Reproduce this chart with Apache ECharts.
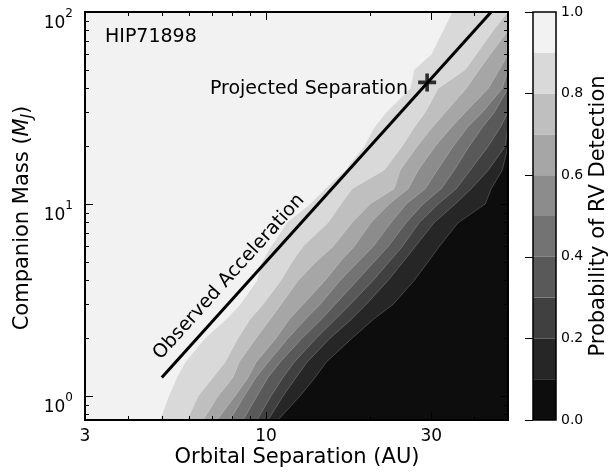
<!DOCTYPE html>
<html>
<head>
<meta charset="utf-8">
<script src="https://cdn.jsdelivr.net/npm/echarts@6/dist/echarts.min.js"></script>
<style>
  html, body { margin: 0; padding: 0; background: #fff; }
  #main { width: 611px; height: 472px; }
</style>
</head>
<body>
<div id="main"></div>
<script>
// contour levels of the RV detection probability
const levels = [0, 0.1, 0.2, 0.3, 0.4, 0.5, 0.6, 0.7, 0.8, 0.9, 1.0];

const massRows = [0.75, 1, 1.25, 1.5, 2, 2.5, 3, 4, 5, 6, 8, 10, 12, 15, 20, 25, 30, 40, 50, 60, 80, 100];

// orbital separation (AU) of each contour edge on those rows, bottom to top
// (an edge that runs out of the right side of the plot stops at 50)
const edge10 = [10.83, 12.54, 13.87, 14.92, 17.73, 20.39, 23.29, 26.79, 29.41, 31.64, 35.91, 42.98, 44.73, 48.13, 50];
const edge20 = [10.14, 11.20, 12.22, 13.14, 15.31, 17.62, 19.47, 22.53, 24.90, 26.98, 30.60, 35.20, 39.15, 43.86, 49.10, 50];
const edge30 = [9.42, 10.34, 11.20, 12.06, 13.96, 15.83, 17.50, 20.39, 22.68, 24.74, 27.69, 31.44, 35.44, 38.89, 43.86, 47.49, 50];
const edge40 = [8.59, 9.42, 10.14, 10.98, 12.71, 14.43, 15.83, 18.34, 20.53, 22.53, 25.41, 28.44, 32.06, 34.96, 38.64, 42.13, 45.63, 50];
const edge50 = [7.87, 8.65, 9.36, 10.14, 11.58, 12.97, 14.33, 16.37, 18.46, 20.39, 22.98, 25.41, 28.83, 31.23, 34.73, 38.13, 42.13, 48.13, 50];
const edge60 = [7.22, 8.14, 8.88, 9.36, 10.69, 11.66, 12.79, 14.82, 16.37, 17.97, 20.12, 22.68, 25.75, 27.52, 30.81, 34.27, 37.62, 43.86, 47.18, 50];
const edge70 = [6.58, 7.27, 8.03, 8.36, 9.36, 10.27, 11.05, 12.39, 13.96, 15.62, 17.73, 19.99, 23.45, 24.41, 27.34, 30.20, 32.93, 37.87, 41.30, 44.43, 50];
const edge80 = [5.92, 6.37, 7.03, 7.62, 8.30, 8.99, 9.80, 11.05, 11.90, 12.79, 15.12, 16.48, 17.73, 21.94, 24.74, 26.79, 28.83, 31.44, 37.62, 40.48, 45.33, 50];
const edge90 = [4.94, 5.24, 5.53, 5.84, 6.67, 7.67, 8.42, 9.42, 9.74, 10.34, 11.51, 13.41, 14.82, 16.93, 19.20, 20.53, 22.24, 26.09, 26.79, 30.0, 32.49, 34.50];

// observed acceleration line and projected separation (AU, M_J)
const accelLine = [[5.0, 1.25], [44.7, 100]];
const projSep = [29.2, 43];

// axis ranges and ticks
const xRange = [3, 50];
const yRange = [0.75, 100];
const xMajor = [3, 10, 30];
const xMinor = [4, 5, 6, 7, 8, 9, 20, 40];
const yMajor = [1, 10, 100];
const yMinor = [0.8, 0.9, 2, 3, 4, 5, 6, 7, 8, 9, 20, 30, 40, 50, 60, 70, 80, 90];

const lg = Math.log10;
const font = 'DejaVu Sans';
const edges = [edge10, edge20, edge30, edge40, edge50, edge60, edge70, edge80, edge90];

function bandColor(k) {
    const v = Math.round(255 * (levels[k] + levels[k + 1]) / 2);
    return 'rgb(' + v + ',' + v + ',' + v + ')';
}

let chart = echarts.init(document.getElementById('main'));

function mainAxis(range, pos, ticks, len, label) {
    return {
        type: 'value',
        gridIndex: 0,
        position: pos,
        min: lg(range[0]),
        max: lg(range[1]),
        z: 10,
        axisLine: { show: true, onZero: false, lineStyle: { color: '#000', width: 2 } },
        axisTick: { show: true, inside: true, length: len, customValues: ticks.map(lg),
                    lineStyle: { color: '#000', width: 1 } },
        axisLabel: label || { show: false },
        splitLine: { show: false }
    };
}

const xLabel = {
    show: true, customValues: xMajor.map(lg), showMinLabel: true, showMaxLabel: true,
    formatter: v => String(Math.round(Math.pow(10, v))),
    fontSize: 17, color: '#000', fontFamily: font, margin: 8
};
const yLabel = {
    show: true, customValues: yMajor.map(lg), showMinLabel: true, showMaxLabel: true,
    formatter: v => '{b|10}{s|' + Math.round(v) + '}',
    margin: 12,
    padding: [16, 0, 0, 0],
    rich: {
        b: { fontSize: 17, fontFamily: font, color: '#000', lineHeight: 24, verticalAlign: 'bottom' },
        s: { fontSize: 12, fontFamily: font, color: '#000', lineHeight: 12, verticalAlign: 'top' }
    }
};

option = {
    animation: false,
    backgroundColor: '#fff',
    textStyle: { fontFamily: font },
    grid: [
        { left: 85, right: 103, top: 12, bottom: 52 },
        { left: 533, top: 12, width: 23, height: 408 }
    ],
    xAxis: [
        mainAxis(xRange, 'bottom', xMajor, 8, xLabel),
        mainAxis(xRange, 'bottom', xMinor, 4),
        mainAxis(xRange, 'top', xMajor, 8),
        mainAxis(xRange, 'top', xMinor, 4),
        { type: 'value', gridIndex: 1, min: 0, max: 1, show: false }
    ],
    yAxis: [
        mainAxis(yRange, 'left', yMajor, 8, yLabel),
        mainAxis(yRange, 'left', yMinor, 4),
        mainAxis(yRange, 'right', yMajor, 8),
        mainAxis(yRange, 'right', yMinor, 4),
        {
            type: 'value', gridIndex: 1, min: 0, max: 1, interval: 0.2, position: 'right', z: 10,
            axisLine: { show: false },
            axisTick: { show: true, inside: true, length: 8, lineStyle: { color: '#000', width: 1 } },
            axisLabel: { fontSize: 14, color: '#000', fontFamily: font, margin: 5,
                         formatter: v => v.toFixed(1) },
            splitLine: { show: false },
            name: 'Probability of RV Detection',
            nameLocation: 'middle',
            nameRotate: 90,
            nameGap: 32,
            nameTextStyle: { fontSize: 21, fontFamily: font, color: '#000' }
        }
    ],
    graphic: [
        // axis titles
        { type: 'text', x: 297, y: 458, z: 20,
          style: { text: 'Orbital Separation (AU)', fontSize: 21, fontFamily: font, fill: '#000',
                   align: 'center', verticalAlign: 'middle' } },
        { type: 'text', x: 23, y: 218, rotation: Math.PI / 2, z: 20,
          style: {
              text: '{n|Companion Mass (}{m|M}{j|J}{n|)}',
              align: 'center', verticalAlign: 'middle',
              rich: {
                  n: { fontSize: 21, fontFamily: font, fill: '#000', lineHeight: 26 },
                  m: { fontSize: 21, fontFamily: font, fontStyle: 'italic', fill: '#000', lineHeight: 26 },
                  j: { fontSize: 15, fontFamily: font, fontStyle: 'italic', fill: '#000', lineHeight: 16,
                       verticalAlign: 'bottom' }
              }
          } },
        // annotations
        { type: 'text', x: 105, y: 37, z: 20,
          style: { text: 'HIP71898', fontSize: 19, fontFamily: font, fill: '#000',
                   align: 'left', verticalAlign: 'middle' } },
        { type: 'text', x: 408, y: 89, z: 20,
          style: { text: 'Projected Separation', fontSize: 19, fontFamily: font, fill: '#000',
                   align: 'right', verticalAlign: 'middle' } },
        { type: 'text', x: 229, y: 277, rotation: 0.836, z: 20,
          style: { text: 'Observed Acceleration', fontSize: 19, fontFamily: font, fill: '#000',
                   align: 'center', verticalAlign: 'middle' } }
    ],
    series: [
        {
            // filled contours: paint each level's region above/left of its edge
            type: 'custom',
            xAxisIndex: 0, yAxisIndex: 0,
            silent: true,
            z: 2,
            data: levels.slice(0, -1).map((lv, k) => [lg(xRange[0]), lg(yRange[0]), k]),
            renderItem: function (params, api) {
                const k = api.value(2);
                let pts;
                if (k === 0) {
                    pts = [[xRange[0], yRange[0]], [xRange[1], yRange[0]], [xRange[1], yRange[1]], [xRange[0], yRange[1]]];
                } else {
                    const e = edges[k - 1];
                    pts = e.map((a, i) => [a, massRows[i]]);
                    if (e.length < massRows.length) pts.push([xRange[1], yRange[1]]);
                    pts.push([xRange[0], yRange[1]], [xRange[0], yRange[0]]);
                }
                return {
                    type: 'polygon',
                    z2: k,
                    shape: { points: pts.map(p => api.coord([lg(p[0]), lg(p[1])])) },
                    style: { fill: bandColor(k),
                             stroke: k ? 'rgba(255,255,255,0.28)' : null,
                             lineWidth: 0.7 }
                };
            }
        },
        {
            type: 'line',
            xAxisIndex: 0, yAxisIndex: 0,
            data: accelLine.map(p => [lg(p[0]), lg(p[1])]),
            symbol: 'none',
            silent: true,
            z: 5,
            lineStyle: { color: '#000', width: 3 }
        },
        {
            type: 'scatter',
            xAxisIndex: 0, yAxisIndex: 0,
            data: [[lg(projSep[0]), lg(projSep[1])]],
            symbol: 'path://M4,0H6V4H10V6H6V10H4V6H0V4H4Z',
            symbolSize: 18,
            itemStyle: { color: '#000' },
            silent: true,
            z: 6
        },
        {
            // colour bar bands
            type: 'custom',
            xAxisIndex: 4, yAxisIndex: 4,
            silent: true,
            data: levels.slice(0, -1).map((lv, k) => [0, lv, k]),
            renderItem: function (params, api) {
                const k = api.value(2);
                const p0 = api.coord([0, levels[k]]);
                const p1 = api.coord([1, levels[k + 1]]);
                return {
                    type: 'rect',
                    shape: { x: p0[0], y: p1[1], width: p1[0] - p0[0], height: p0[1] - p1[1] },
                    style: { fill: bandColor(k) }
                };
            }
        },
        {
            // colour bar frame
            type: 'custom',
            xAxisIndex: 4, yAxisIndex: 4,
            silent: true,
            z: 8,
            data: [[0, 0]],
            renderItem: function (params, api) {
                const p0 = api.coord([0, 0]);
                const p1 = api.coord([1, 1]);
                return {
                    type: 'rect',
                    shape: { x: p0[0], y: p1[1], width: p1[0] - p0[0], height: p0[1] - p1[1] },
                    style: { fill: null, stroke: '#000', lineWidth: 1.5 }
                };
            }
        }
    ]
};

option && chart.setOption(option);
</script>
</body>
</html>
